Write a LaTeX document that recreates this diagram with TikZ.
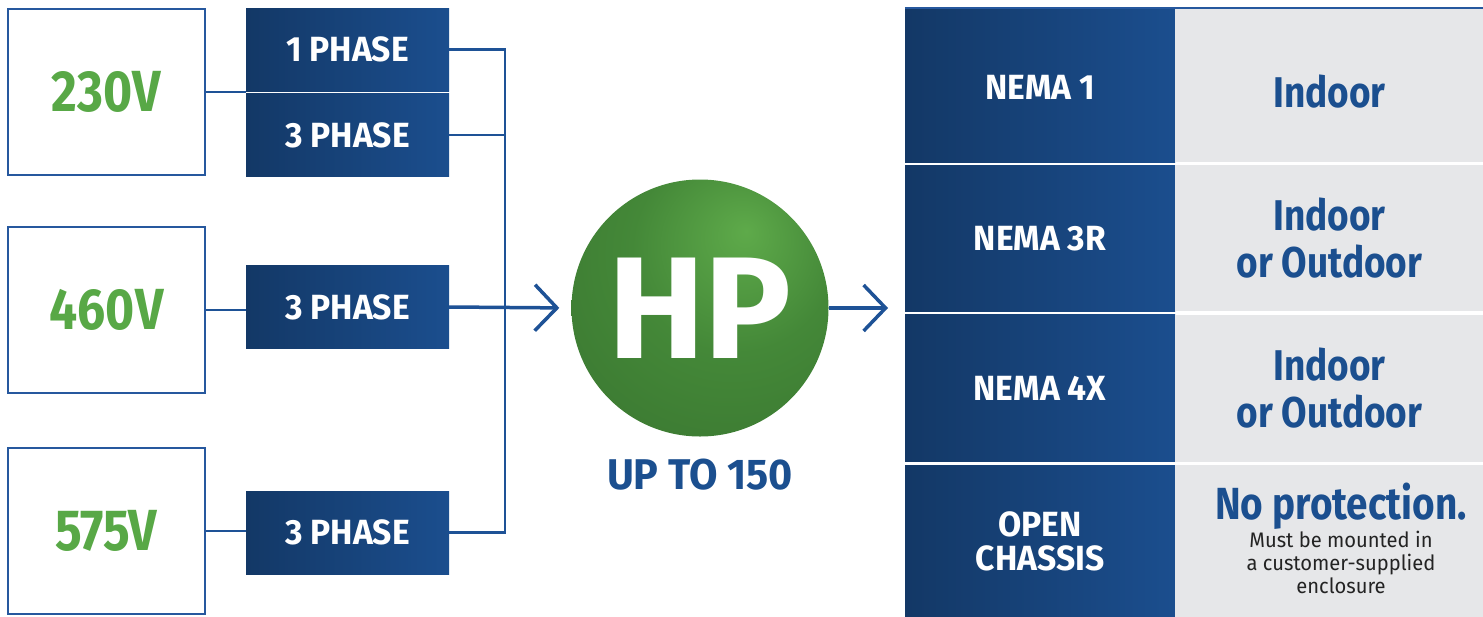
\documentclass[tikz,border=0pt]{standalone}
\usepackage{fontspec}
\setmainfont{Fira Sans}[FakeStretch=0.86]
\newfontfamily\widefont{Fira Sans}[FakeStretch=0.96]
\newfontfamily\hpfont{Fira Sans}[FakeStretch=1.0]
\usetikzlibrary{positioning,arrows.meta}

\definecolor{boxblue}{RGB}{38,88,158}
\definecolor{linkblue}{RGB}{30,82,150}
\definecolor{darkblue}{RGB}{19,56,102}
\definecolor{midblue}{RGB}{27,78,142}
\definecolor{textblue}{RGB}{27,79,143}
\definecolor{voltgreen}{RGB}{88,168,70}
\definecolor{cellgray}{RGB}{230,231,233}
\definecolor{notegray}{RGB}{35,35,35}
\definecolor{hplight}{RGB}{94,170,74}
\definecolor{hpmid}{RGB}{68,136,56}
\definecolor{hpdark}{RGB}{30,70,28}

\pgfdeclareradialshading{hpball}{\pgfpoint{9bp}{15bp}}{color(0bp)=(hplight); color(20bp)=(hpmid); color(42bp)=(hpmid!75!hpdark); color(64bp)=(hpdark); color(80bp)=(hpdark)}

\begin{document}
\begin{tikzpicture}[x=1pt, y=-1pt,
  volt/.style = {draw=boxblue, line width=2.5pt, minimum width=197pt, minimum height=166pt, inner sep=0pt, text=voltgreen, font=\fontsize{58}{58}\selectfont\bfseries},
  phase/.style = {left color=darkblue, right color=midblue, minimum width=203pt, minimum height=83pt, inner sep=0pt, text=white, font=\widefont\fontsize{35}{35}\selectfont\bfseries},
  link/.style = {draw=linkblue, line width=2.5pt},
  flow/.style = {draw=linkblue, line width=3.5pt, -{Straight Barb[length=22pt, width=46pt]}},
  ball/.style = {circle, shading=hpball, minimum size=257pt, inner sep=0pt, text=white, font=\hpfont\fontsize{145}{145}\selectfont\bfseries},
  encl/.style = {left color=darkblue, right color=midblue, minimum width=270pt, inner sep=0pt, text=white, align=center, font=\widefont\fontsize{35}{34}\selectfont\bfseries},
  descr/.style = {fill=cellgray, minimum width=308pt, inner sep=0pt, text=textblue, align=center, font=\fontsize{43}{47}\selectfont\bfseries},
  note/.style = {inner sep=0pt, text=notegray, align=center, font=\widefont\fontsize{21}{23}\selectfont}]
\useasboundingbox (0,0) rectangle (1483,616);

% supply voltages
\node[volt] (v230) at (106.5,92) {230V};
\node[volt] (v460) at (106.5,310) {460V};
\node[volt] (v575) at (106.5,531) {575V};

% phases
\node[phase] (p1) at (347.5,49.5) {1 PHASE};
\node[phase] (p2) [below=2pt of p1] {3 PHASE};
\node[phase] (p3) at (347.5,307) {3 PHASE};
\node[phase] (p4) at (347.5,532.5) {3 PHASE};

% horsepower
\node[ball] (hp) at (700,308) {HP};
\node[inner sep=0pt, text=textblue, font=\widefont\fontsize{43}{43}\selectfont\bfseries] (upto) [below=22pt of hp] {UP TO 150};
\coordinate (bus) at (505,308);
\coordinate (out) at (888,308);

% enclosures
\node[encl, minimum height=154pt] (n1) at (1040,85) {\raisebox{-2pt}[\height][0pt]{NEMA 1}};
\node[descr, minimum height=154pt] (d1) [right=0pt of n1] {\raisebox{-6pt}[\height][0pt]{Indoor}};
\node[encl, minimum height=146pt] (n2) [below=3pt of n1] {NEMA 3R};
\node[descr, minimum height=146pt] (d2) [right=0pt of n2] {Indoor\\or Outdoor};
\node[encl, minimum height=147pt] (n3) [below=3pt of n2] {NEMA 4X};
\node[descr, minimum height=147pt] (d3) [right=0pt of n3] {Indoor\\or Outdoor};
\node[encl, minimum height=152pt] (n4) [below=3pt of n3] {OPEN\\CHASSIS};
\node[descr, minimum height=152pt] (d4) [right=0pt of n4] {};
\node[inner sep=0pt, text=textblue, font=\fontsize{45}{45}\selectfont\bfseries] (np) at (1341,506) {No protection.};
\node[note] (nt) [below=1pt of np] {Must be mounted in\\a customer-supplied\\enclosure};
\draw[boxblue, line width=1.5pt] (n1.north west) -- (d1.north east);

\draw[link] (v230.east) -- (v230.east -| p1.west);
\draw[link] (v460.east) -- (v460.east -| p3.west);
\draw[link] (v575.east) -- (v575.east -| p4.west);
\draw[link] (p1.east) -- (p1.east -| bus) -- (p4.east -| bus) -- (p4.east);
\draw[link] (p2.east) -- (p2.east -| bus);
\draw[flow] (p3.east) -- (hp.west) [shorten >=12pt];
\draw[flow] (hp.east) -- (out);
\end{tikzpicture}
\end{document}
